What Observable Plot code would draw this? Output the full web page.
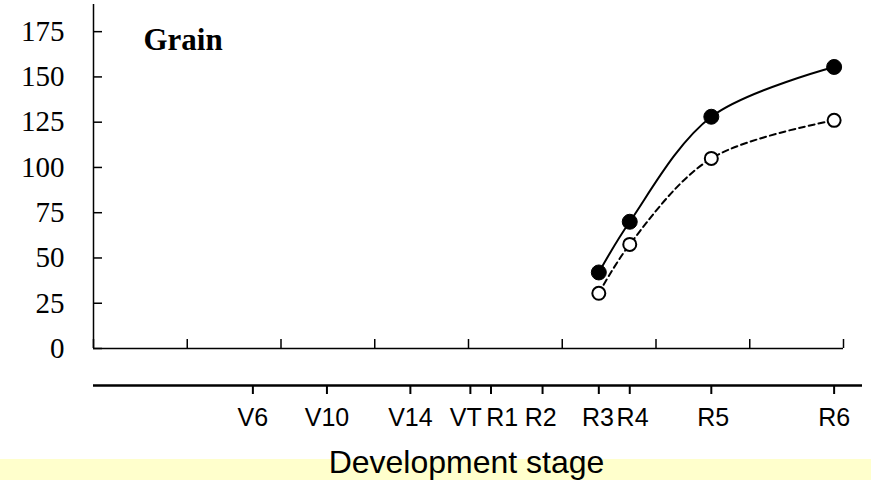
<!DOCTYPE html>
<html>
<head>
<meta charset="utf-8">
<script src="https://cdn.jsdelivr.net/npm/d3@7"></script>
<script src="https://cdn.jsdelivr.net/npm/@observablehq/plot@0.6"></script>
<style>
  html, body { margin: 0; padding: 0; background: white; }
  #wrap { position: relative; width: 871px; height: 480px; }
  #band { position: absolute; left: 0; top: 459px; width: 871px; height: 21px; background: #FFFFCC; }
  #chart { position: absolute; left: 0; top: 0; }
</style>
</head>
<body>
<div id="wrap"><div id="band"></div><div id="chart"></div></div>
<script>
// ---- data ----
const yTicks = [0, 25, 50, 75, 100, 125, 150, 175];
const upperTicks = [0, 1, 2, 3, 4, 5, 6, 7, 8];
const stages = ["V6", "V10", "V14", "VT", "R1", "R2", "R3", "R4", "R5", "R6"];
const stagePos = [1.70, 2.49, 3.38, 4.02, 4.24, 4.79, 5.39, 5.72, 6.59, 7.90];
const stageLabelPos = [1.70, 2.49, 3.38, 3.97, 4.36, 4.77, 5.38, 5.75, 6.61, 7.90];
const grainStages = ["R3", "R4", "R5", "R6"];
const grainFilled = [42, 70, 128, 155.5];
const grainOpen = [30.5, 57.5, 105, 126];
const panelTitle = "Grain";
const xLabel = "Development stage";

// ---- build tables ----
const posOf = new Map(stages.map((s, i) => [s, stagePos[i]]));
const stageLabels = stages.map((s, i) => ({label: s, x: stageLabelPos[i]}));
const filledData = grainStages.map((s, i) => ({x: posOf.get(s), y: grainFilled[i]}));
const openData = grainStages.map((s, i) => ({x: posOf.get(s), y: grainOpen[i]}));

const chart = Plot.plot({
  width: 871,
  height: 480,
  marginLeft: 93,
  marginRight: 28,
  marginTop: 4,
  marginBottom: 132,
  x: {domain: [0, 8], axis: null},
  y: {domain: [0, 190], axis: null},
  style: {background: "transparent", color: "black", fontFamily: "Liberation Sans", fontSize: "26px"},
  marks: [
    // y axis line and upper x axis line
    Plot.ruleX([0], {stroke: "black", strokeWidth: 1.5}),
    Plot.ruleY([0], {stroke: "black", strokeWidth: 1.5}),
    // y axis ticks (inward) and labels
    Plot.axisY(yTicks, {
      anchor: "left", tickSize: -9, tickPadding: 38, strokeWidth: 1.5,
      fontFamily: "Liberation Serif", fontSize: 29, label: null
    }),
    // upper x axis inward ticks (no labels)
    Plot.axisX(upperTicks, {
      anchor: "bottom", tickSize: -9, tickFormat: () => "", strokeWidth: 1.5, label: null
    }),
    // lower stage axis
    Plot.ruleY([0], {dy: 37, insetRight: -19, stroke: "black", strokeWidth: 2.5}),
    Plot.axisX(stagePos, {
      anchor: "bottom", dy: 37, tickSize: 9, strokeWidth: 2,
      tickFormat: () => "", label: null
    }),
    Plot.text(stageLabels, {
      x: "x", text: "label", frameAnchor: "bottom", lineAnchor: "top", dy: 60,
      fontFamily: "Liberation Sans", fontSize: 25, fill: "black"
    }),
    // series
    Plot.line(openData, {x: "x", y: "y", curve: "catmull-rom", stroke: "black", strokeWidth: 2, strokeDasharray: "6,4"}),
    Plot.line(filledData, {x: "x", y: "y", curve: "catmull-rom", stroke: "black", strokeWidth: 2}),
    Plot.dot(openData, {x: "x", y: "y", r: 6.5, fill: "white", stroke: "black", strokeWidth: 2}),
    Plot.dot(filledData, {x: "x", y: "y", r: 7.5, fill: "black", stroke: "black", strokeWidth: 1}),
    // titles
    Plot.text([panelTitle], {
      frameAnchor: "top-left", textAnchor: "start", lineAnchor: "top", dx: 50, dy: 23,
      fontFamily: "Liberation Serif", fontWeight: "bold", fontSize: 31, fill: "black"
    }),
    Plot.text([xLabel], {
      frameAnchor: "bottom", lineAnchor: "bottom", dx: -2, dy: 124,
      fontFamily: "Liberation Sans", fontSize: 32, fill: "black"
    })
  ]
});
document.getElementById("chart").appendChild(chart);
</script>
</body>
</html>
